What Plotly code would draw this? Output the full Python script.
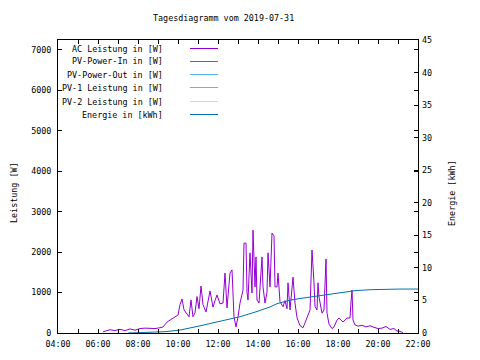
import plotly.graph_objects as go

DAY = "2019-07-31"
TITLE = "Tagesdiagramm vom 2019-07-31"

ac_times = ["06:15","06:21","06:36","06:51","07:06","07:21","07:36","07:51","08:06","08:21",
            "08:36","08:51","09:06","09:15","09:27","09:42","10:00","10:06","10:12","10:18",
            "10:27","10:33","10:39","10:45","10:51","10:57","11:03","11:09","11:15","11:24",
            "11:36","11:45","11:51","11:57","12:06","12:15","12:21","12:27","12:36","12:42",
            "12:48","12:54","13:00","13:06","13:15","13:18","13:24","13:27","13:30","13:36",
            "13:42","13:45","13:51","13:54","13:57","14:03","14:12","14:15","14:21","14:27",
            "14:30","14:36","14:42","14:48","14:51","14:57","15:00","15:06","15:15","15:21",
            "15:27","15:30","15:36","15:45","15:51","15:57","16:06","16:15","16:21","16:27",
            "16:36","16:42","16:45","16:48","16:51","16:57","17:00","17:03","17:12","17:18",
            "17:24","17:27","17:33","17:42","17:48","17:57","18:03","18:15","18:27","18:36",
            "18:39","18:42","18:45","18:51","19:00","19:12","19:24","19:36","19:48","20:00",
            "20:12","20:24","20:36","20:48","20:57","21:06","21:15"]
ac_watts = [30,50,80,60,90,60,100,70,110,120,
            120,110,130,150,270,350,445,700,840,570,
            450,400,815,400,500,900,600,1160,700,520,
            1040,640,800,940,720,740,1480,620,1480,1560,
            400,150,400,740,1060,2220,2220,1010,815,1980,
            990,2540,1140,1880,815,740,1880,1140,740,1010,
            1980,1140,2470,2400,1140,1140,1480,770,650,800,
            600,1240,570,1380,740,380,180,130,250,370,
            570,2050,1730,1240,650,570,1240,890,490,570,
            1830,490,220,110,150,320,370,270,370,370,
            770,1060,320,200,170,190,150,180,140,110,
            120,160,90,110,50,40,10]

en_times = ["07:30","08:36","09:21","10:06","10:36","11:06","11:57","12:36","13:06","13:57",
            "14:36","14:57","15:36","16:06","16:36","17:06","17:36","18:06","18:51","19:36",
            "20:06","21:06","22:00"]
en_kwh = [0.0,0.05,0.2,0.45,0.75,1.1,1.7,2.2,2.5,3.3,
          4.0,4.5,5.05,5.3,5.5,5.75,6.0,6.2,6.5,6.65,
          6.7,6.75,6.75]

legend_names = ["AC Leistung in [W]", "PV-Power-In in [W]", "PV-Power-Out in [W]",
                "PV-1 Leistung in [W]", "PV-2 Leistung in [W]", "Energie in [kWh]"]
legend_colors = ["#9400d3", "#009e73", "#56b4e9", "#e69f00", "#f0e442", "#0072b2"]

FONT = "DejaVu Sans Mono"
FS = 8.4

fig = go.Figure()
fig.add_trace(go.Scatter(x=[f"{DAY} {t}" for t in ac_times], y=ac_watts, mode="lines",
                         line=dict(color=legend_colors[0], width=1), name=legend_names[0],
                         showlegend=False))
fig.add_trace(go.Scatter(x=[f"{DAY} {t}" for t in en_times], y=en_kwh, mode="lines",
                         line=dict(color=legend_colors[5], width=1), name=legend_names[5],
                         yaxis="y2", showlegend=False))

# plot area in screen pixels (page body has an 8px margin)
OFF = 8
L, R, T, B = 58, 418, 40, 333
W, H = 480 - OFF, 360 - OFF

def px(x):
    return (x - L) / (R - L)

def py(y):
    return (B - y) / (B - T)

ann = [dict(text=TITLE, x=px(223), y=py(18), xref="paper", yref="paper",
            showarrow=False, xanchor="center", yanchor="middle",
            font=dict(family=FONT, size=FS, color="black")),
       dict(text="Leistung [W]", x=px(14), y=py(193), xref="paper", yref="paper",
            showarrow=False, textangle=-90, xanchor="center", yanchor="middle",
            font=dict(family=FONT, size=FS, color="black")),
       dict(text="Energie [kWh]", x=px(452), y=py(193), xref="paper", yref="paper",
            showarrow=False, textangle=-90, xanchor="center", yanchor="middle",
            font=dict(family=FONT, size=FS, color="black"))]
shapes = []
row_y0, row_dy = 47.5, 13.3
for i, (n, c) in enumerate(zip(legend_names, legend_colors)):
    yy = round(row_y0 + i * row_dy) + 0.5
    ann.append(dict(text=n, x=px(165), y=py(yy), xref="paper", yref="paper",
                    showarrow=False, xanchor="right", yanchor="middle",
                    font=dict(family=FONT, size=FS, color="black")))
    shapes.append(dict(type="line", xref="paper", yref="paper",
                       x0=px(190), x1=px(218), y0=py(yy), y1=py(yy),
                       line=dict(color=c, width=1)))

fig.update_layout(
    width=W, height=H,
    margin=dict(l=L - OFF, r=W - (R - OFF), t=T - OFF, b=H - (B - OFF), pad=0,
                autoexpand=False),
    paper_bgcolor="white", plot_bgcolor="white",
    font=dict(family=FONT, size=FS, color="black"),
    annotations=ann, shapes=shapes,
    xaxis=dict(type="date", range=[f"{DAY} 04:00", f"{DAY} 22:00"], automargin=False,
               dtick=7200000, tickformat="%H:%M", ticks="inside", ticklen=4,
               tickcolor="black", showline=True, linecolor="black", linewidth=1,
               mirror="ticks", showgrid=False, zeroline=False, ticklabelstandoff=3,
               minor=dict(dtick=3600000, ticks="inside", ticklen=4, tickcolor="black",
                          showgrid=False),
               tickfont=dict(family=FONT, size=FS)),
    yaxis=dict(range=[0, 7240], dtick=1000, ticks="inside", ticklen=4, tickcolor="black",
               showline=True, linecolor="black", linewidth=1, mirror="ticks", automargin=False,
               showgrid=False, zeroline=False, ticklabelstandoff=4,
               tickfont=dict(family=FONT, size=FS)),
    yaxis2=dict(range=[0, 45], dtick=5, overlaying="y", side="right", ticks="inside",
                ticklen=4, tickcolor="black", showline=False, showgrid=False, automargin=False,
                zeroline=False, ticklabelstandoff=3, tickfont=dict(family=FONT, size=FS)),
)

fig.write_html("out.html")
